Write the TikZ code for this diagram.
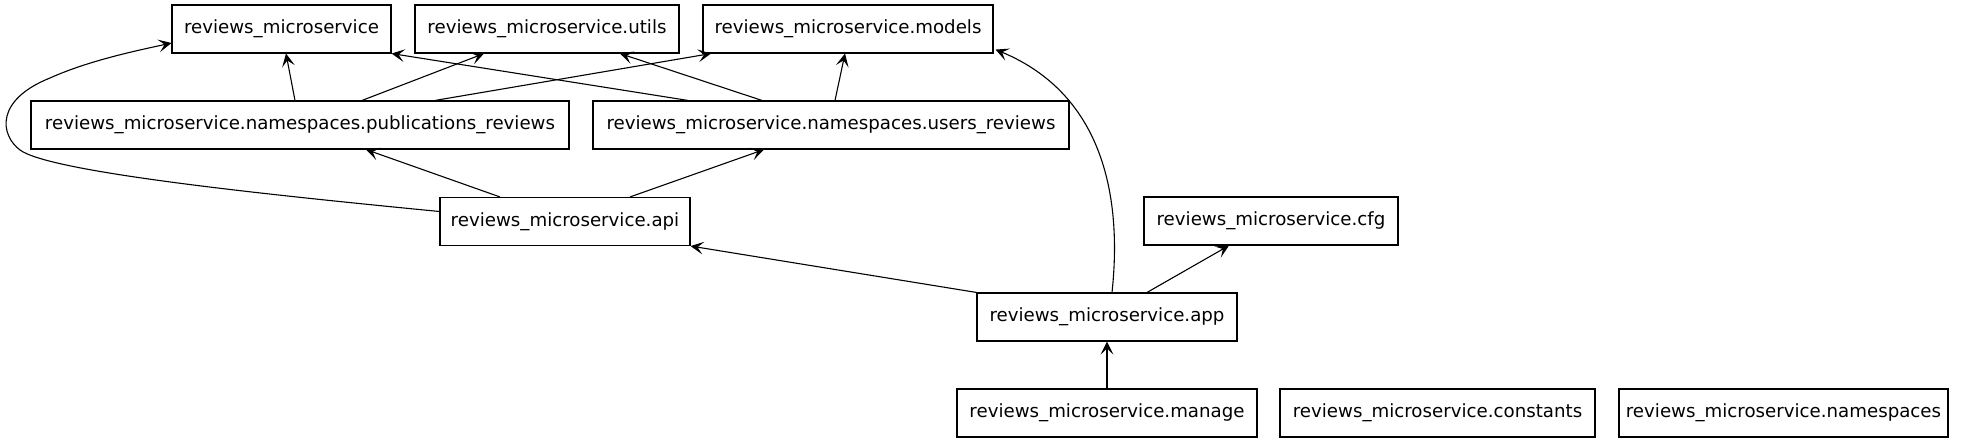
\documentclass[tikz,border=0pt]{standalone}
\usepackage{fontspec}
\setmainfont{DejaVu Sans}
\usetikzlibrary{arrows.meta,calc}
\begin{document}
\begin{tikzpicture}[x=0.5pt,y=-0.5pt,
  mod/.style={draw=black,line width=0.55pt,inner sep=0pt,minimum height=24pt,
    font=\fontsize{9.1}{11}\selectfont,anchor=center},
  dep/.style={draw=black,line width=0.55pt,-{Stealth[length=6.5pt,width=6.4pt,inset=3pt]}}]
\useasboundingbox (0,0) rectangle (1965,443);
\node[mod,minimum width=109.5pt] (rm) at (281.5,29) {reviews\_microservice};
\node[mod,minimum width=132pt] (utils) at (547,29) {reviews\_microservice.utils};
\node[mod,minimum width=145pt] (models) at (848,29) {reviews\_microservice.models};
\node[mod,minimum width=269pt] (pub) at (300,125) {reviews\_microservice.namespaces.publications\_reviews};
\node[mod,minimum width=238pt] (users) at (831,125) {reviews\_microservice.namespaces.users\_reviews};
\node[mod,minimum width=125pt] (api) at (565,221.5) {reviews\_microservice.api};
\node[mod,minimum width=127pt] (cfg) at (1271,221) {reviews\_microservice.cfg};
\node[mod,minimum width=130pt] (app) at (1107,317) {reviews\_microservice.app};
\node[mod,minimum width=150pt] (manage) at (1107,413) {reviews\_microservice.manage};
\node[mod,minimum width=157.5pt] (constants) at (1437.5,413) {reviews\_microservice.constants};
\node[mod,minimum width=164.5pt] (namespaces) at (1783.5,413) {reviews\_microservice.namespaces};
% pub
\draw[dep] ($(pub.north)+(-5,0)$) -- ($(rm.south)+(4.5,0)$);
\draw[dep] ($(pub.north)+(62,0)$) -- ($(utils.south)+(-63,0)$);
\draw[dep] ($(pub.north)+(135,0)$) -- ($(models.south)+(-137,0)$);
% users
\draw[dep] ($(users.north)+(-143,0)$) -- (rm.south east);
\draw[dep] ($(users.north)+(-69,0)$) -- ($(utils.south)+(73,0)$);
\draw[dep] ($(users.north)+(4,0)$) -- ($(models.south)+(-3,0)$);
% api
\draw[dep] ($(api.north)+(-65,0)$) -- ($(pub.south)+(66,0)$);
\draw[dep] ($(api.north)+(65,0)$) -- ($(users.south)+(-67,0)$);
\draw[dep] ($(api.west)+(0,-10)$) .. controls (260,194) and (50,172) .. (20,150)
  .. controls (0,135) and (-5,100) .. (50,78)
  .. controls (90,60) and (140,50) .. ($(rm.west)+(0,14)$);
% app
\draw[dep] (app.north west) -- (api.south east);
\draw[dep] ($(app.north)+(5,0)$) .. controls (1122,200) and (1105,95) .. ($(models.south east)+(2,-4)$);
\draw[dep] ($(app.north)+(40,0)$) -- ($(cfg.south)+(-42,0)$);
% manage
\draw[dep] (manage.north) -- (app.south);
\end{tikzpicture}
\end{document}
